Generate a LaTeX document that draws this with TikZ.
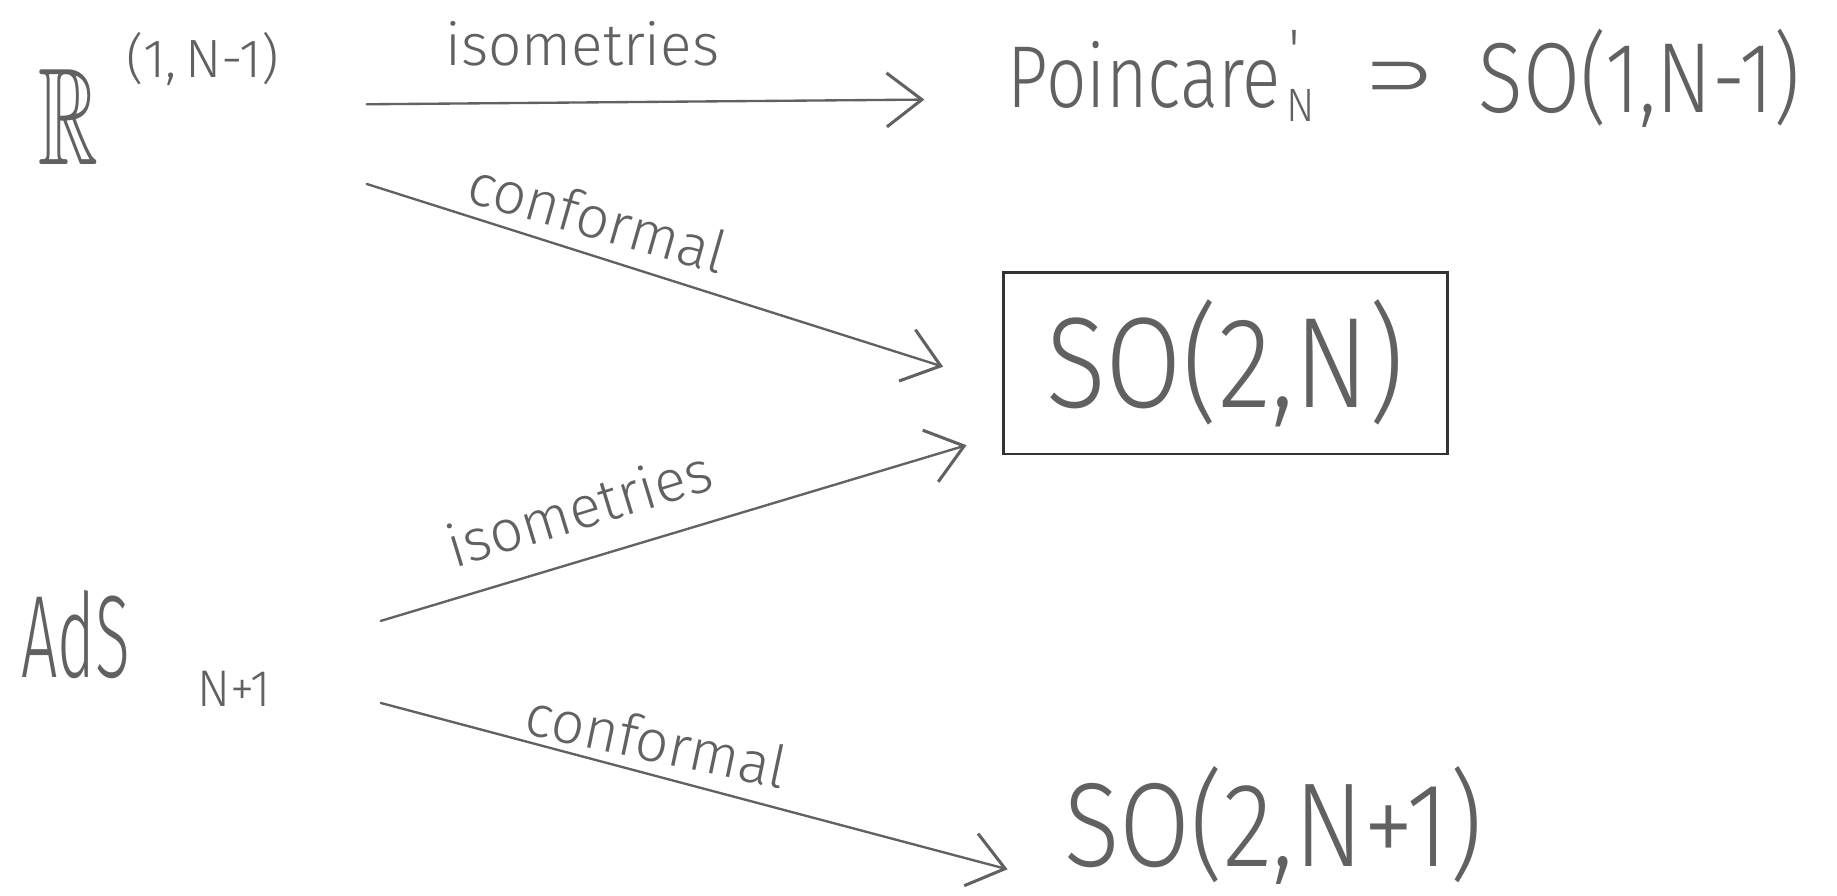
\documentclass[tikz,border=0pt]{standalone}
\usepackage{amssymb}
\usepackage{graphicx}
\usepackage{fontspec}
\setmainfont{Fira Sans Light}
\newfontfamily\symfont{DejaVu Sans}
\usetikzlibrary{arrows.meta}
\newcommand{\hw}[3]{\scalebox{#1}[1]{\fontsize{#2}{#2}\selectfont #3}}
\tikzset{
  txt/.style={inner sep=0pt, text=black!62},
  lbl/.style={txt, font=\fontsize{50}{50}\selectfont},
  conn/.style={draw=black!62, line width=2pt, line cap=round,
    -{Straight Barb[length=30pt,width=46pt,line width=2.6pt]}},
  boxed/.style={txt, draw=black!80, line width=2.5pt, minimum width=379pt, minimum height=155pt}
}
\begin{document}
\begin{tikzpicture}[x=1pt,y=-1pt]
\useasboundingbox[fill=white] (0,0) rectangle (1568,764);
% nodes
\node[txt,anchor=base west] (R) at (33,140) {\hw{0.6}{118}{$\mathbb{R}$}};
\node[txt,anchor=base west] (Rsup) at (108,66) {\hw{1}{46}{(1,\,N-1)}};
\node[txt,anchor=base west] (P) at (860,92) {\hw{0.81}{75}{Poincare}};
\node[txt,anchor=base] (Pprime) at (1105,60) {\hw{1}{50}{\textquotesingle}};
\node[txt,anchor=base] (PN) at (1110,104) {\hw{0.9}{40}{N}};
\node[txt] (sup) at (1195,67) {\scalebox{1}[0.7]{\fontsize{72}{72}\symfont ⊃}};
\node[txt,anchor=base west] (SO1) at (1262,96) {\hw{0.83}{85}{SO(1,N-1)}};
\node[boxed] (SO2N) at (1046,310) {\hw{0.86}{110}{SO(2,N)}};
\node[txt,anchor=base west] (AdS) at (18,578) {\hw{0.55}{100}{AdS}};
\node[txt,anchor=base west] (AdSsub) at (168,603) {\hw{0.95}{44}{N+1}};
\node[txt,anchor=base west] (SO21) at (908,740) {\hw{0.86}{102}{SO(2,N+1)}};
% connector ends
\coordinate (a1s) at (313,89);  \coordinate (a1e) at (789,85);
\coordinate (a2s) at (313,157); \coordinate (a2e) at (805,313);
\coordinate (a3s) at (325,530); \coordinate (a3e) at (825,380);
\coordinate (a4s) at (325,600); \coordinate (a4e) at (860,742);
\draw[conn] (a1s) -- (a1e);
\draw[conn] (a2s) -- (a2e);
\draw[conn] (a3s) -- (a3e);
\draw[conn] (a4s) -- (a4e);
% labels
\node[lbl,anchor=base] (l1) at (497,56) {isometries};
\node[lbl,anchor=base,rotate=-16] (l2) at (505,203) {conformal};
\node[lbl,anchor=base,rotate=17] (l3) at (500,451) {isometries};
\node[lbl,anchor=base,rotate=-12] (l4) at (557,650) {conformal};
\end{tikzpicture}
\end{document}
